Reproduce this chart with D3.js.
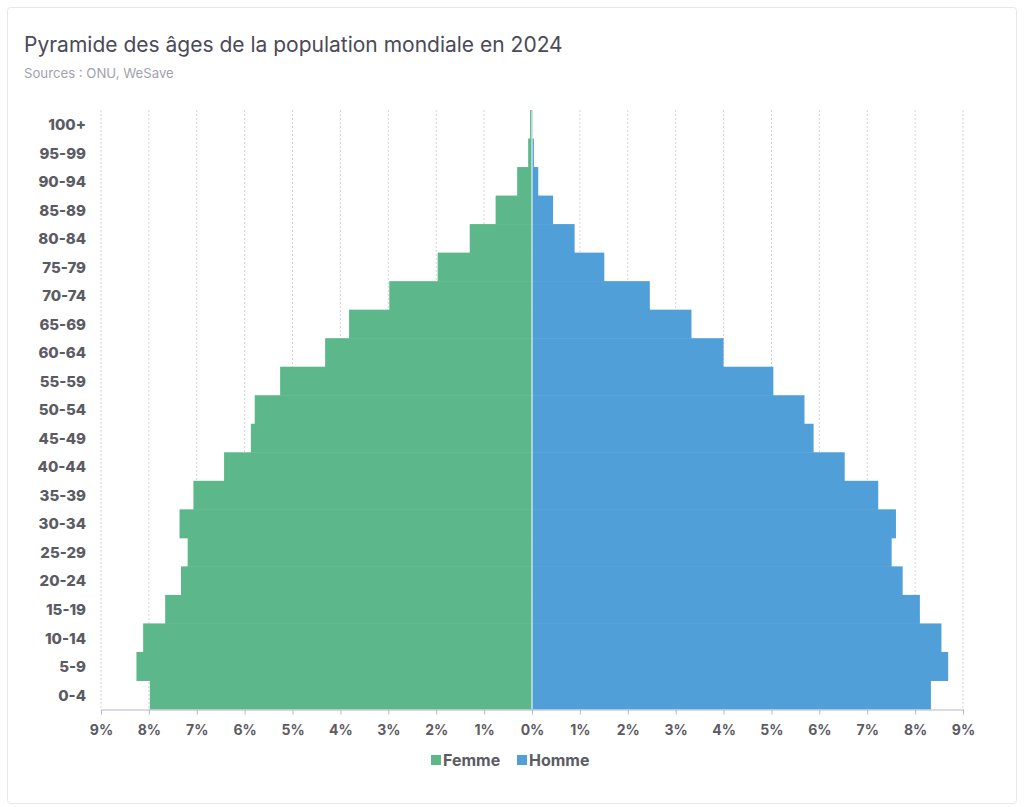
<!DOCTYPE html>
<html>
<head>
<meta charset="utf-8">
<script src="https://cdn.jsdelivr.net/npm/d3@7"></script>
<style>
body { margin: 0; background: #fff; font-family: Inter, "Noto Sans", sans-serif; }
.xaxis text { font-family: Inter, sans-serif; font-weight: 700; font-size: 14px; fill: #5b5b63; }
.yaxis text { font-family: Inter, sans-serif; font-weight: 800; font-size: 15px; fill: #5b5b63; }
</style>
</head>
<body>
<svg id="chart"></svg>
<script>
var width = 1024;
var height = 807;

// age groups, bottom to top
var ages = ["0-4", "5-9", "10-14", "15-19", "20-24", "25-29", "30-34", "35-39", "40-44", "45-49",
    "50-54", "55-59", "60-64", "65-69", "70-74", "75-79", "80-84", "85-89", "90-94", "95-99", "100+"];

// % of world population
var femme = [7.98, 8.26, 8.12, 7.66, 7.33, 7.19, 7.36, 7.07, 6.43, 5.87,
    5.79, 5.26, 4.32, 3.82, 2.98, 1.97, 1.30, 0.76, 0.31, 0.08, 0.04];
var homme = [8.33, 8.69, 8.55, 8.10, 7.74, 7.51, 7.60, 7.23, 6.53, 5.88,
    5.69, 5.04, 4.00, 3.33, 2.46, 1.51, 0.89, 0.44, 0.13, 0.04, 0.01];

var xTicks = [-9, -8, -7, -6, -5, -4, -3, -2, -1, 0, 1, 2, 3, 4, 5, 6, 7, 8, 9];
var series = ["Femme", "Homme"];
var colors = ["#5cb88b", "#509fd8"];

var svg = d3.select("#chart")
    .attr("width", width)
    .attr("height", height);

// card
svg.append("rect")
    .attr("x", 7.5).attr("y", 7.5)
    .attr("width", 1009).attr("height", 796)
    .attr("rx", 3)
    .attr("fill", "#fff")
    .attr("stroke", "#e8e8ea");

svg.append("text")
    .attr("x", 24).attr("y", 52)
    .attr("font-size", 21)
    .attr("fill", "#4a4a59")
    .text("Pyramide des âges de la population mondiale en 2024");

svg.append("text")
    .attr("x", 24).attr("y", 78)
    .attr("font-size", 13.2)
    .attr("fill", "#a2a2ad")
    .text("Sources : ONU, WeSave");

var x = d3.scaleLinear()
    .domain([-9, 9])
    .range([101, 963]);

var y = d3.scaleBand()
    .domain(ages.slice().reverse())
    .range([110, 709])
    .padding(0);

// dotted grid
svg.append("g")
    .selectAll("line")
    .data(xTicks)
    .enter()
    .append("line")
    .attr("x1", function(d) { return x(d); })
    .attr("x2", function(d) { return x(d); })
    .attr("y1", 110)
    .attr("y2", 709)
    .attr("stroke", "#d4d4d8")
    .attr("stroke-dasharray", "2,2");

var rows = ages.map(function(a, i) {
    return {age: a, f: femme[i], h: homme[i]};
});

svg.append("g")
    .selectAll("rect")
    .data(rows)
    .enter()
    .append("rect")
    .attr("x", function(d) { return x(-d.f); })
    .attr("width", function(d) { return x(0) - x(-d.f); })
    .attr("y", function(d) { return y(d.age); })
    .attr("height", y.bandwidth() + 0.5)
    .attr("fill", colors[0]);

svg.append("g")
    .selectAll("rect")
    .data(rows)
    .enter()
    .append("rect")
    .attr("x", x(0))
    .attr("width", function(d) { return x(d.h) - x(0); })
    .attr("y", function(d) { return y(d.age); })
    .attr("height", y.bandwidth() + 0.5)
    .attr("fill", colors[1]);

svg.append("line")
    .attr("x1", x(0)).attr("x2", x(0))
    .attr("y1", 110).attr("y2", 709)
    .attr("stroke", "#fff")
    .attr("stroke-width", 1);

var xAxis = svg.append("g")
    .attr("class", "xaxis")
    .attr("transform", "translate(0,709.5)")
    .call(d3.axisBottom(x)
        .tickValues(xTicks)
        .tickSize(5)
        .tickFormat(function(d) { return Math.abs(d) + "%"; }));
xAxis.select(".domain").attr("stroke", "#b4b8c8");
xAxis.selectAll(".tick line").attr("stroke", "#b4b8c8");
xAxis.selectAll("text").attr("dy", "1.25em");

var yAxis = svg.append("g")
    .attr("class", "yaxis")
    .attr("transform", "translate(94,1)")
    .call(d3.axisLeft(y).tickSize(0).tickPadding(8));
yAxis.select(".domain").remove();

// legend
var legend = svg.append("g")
    .attr("transform", "translate(431,760)");
var legendX = [0, 86];
series.forEach(function(s, i) {
    legend.append("rect")
        .attr("x", legendX[i]).attr("y", -5)
        .attr("width", 10).attr("height", 10)
        .attr("fill", colors[i]);
    legend.append("text")
        .attr("x", legendX[i] + 12).attr("y", 5.5)
        .attr("font-size", 16)
        .attr("font-weight", 700)
        .attr("fill", "#5b5b63")
        .text(s);
});
</script>
</body>
</html>
